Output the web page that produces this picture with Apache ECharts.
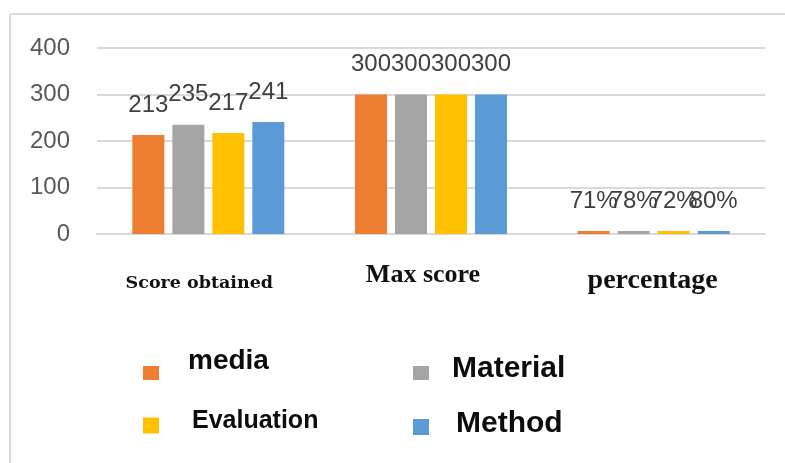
<!DOCTYPE html>
<html>
<head>
<meta charset="utf-8">
<script src="https://cdn.jsdelivr.net/npm/echarts@6/dist/echarts.min.js"></script>
<style>
  html, body { margin: 0; padding: 0; background: #fff; }
  #chart { width: 785px; height: 463px; }
</style>
</head>
<body>
<div id="chart"></div>
<script>
// Categories and series values
const categories = ['Score obtained', 'Max score', 'percentage'];
const seriesNames = ['media', 'Material', 'Evaluation', 'Method'];
const media = [213, 300, 0.71];
const material = [235, 300, 0.78];
const evaluation = [217, 300, 0.72];
const method = [241, 300, 0.80];
const yTicks = [0, 100, 200, 300, 400];

const seriesValues = [media, material, evaluation, method];
const colors = ['#ED7D31', '#A5A5A5', '#FFC000', '#5B9BD5'];

// Style key for each category label (each has its own font size)
const catStyleKey = { 'Score obtained': 'a', 'Max score': 'b', 'percentage': 'c' };

const chart = echarts.init(document.getElementById('chart'), null, { renderer: 'canvas' });

function valueLabel(p) {
  if (p.name === 'percentage') return Math.round(p.value * 100) + '%';
  return String(p.value);
}

const series = seriesNames.map((name, i) => ({
  name: name,
  type: 'bar',
  data: seriesValues[i],
  barWidth: 32,
  barGap: '25%',
  barMinHeight: 3,
  itemStyle: { color: colors[i] },
  label: {
    show: true,
    position: 'top',
    distance: 18,
    formatter: valueLabel,
    color: '#404040',
    fontFamily: 'Liberation Sans',
    fontSize: 24
  }
}));

// Legend entries placed individually (two columns, two rows);
// the name sits a little above its swatch
const legendSpec = [
  { name: 'media', left: 143, top: 347, size: 28, padLeft: 24, lift: 12, h: 14 },
  { name: 'Material', left: 413, top: 354, size: 30, padLeft: 18, lift: 4, h: 14 },
  { name: 'Evaluation', left: 143, top: 409, size: 25, padLeft: 28, lift: 4, h: 16 },
  { name: 'Method', left: 413, top: 409, size: 30, padLeft: 22, lift: 3, h: 16 }
];

const legends = legendSpec.map(s => ({
  data: [s.name],
  left: s.left,
  top: s.top,
  padding: 0,
  icon: 'rect',
  itemWidth: 16,
  itemHeight: s.h,
  selectedMode: false,
  formatter: '{t|{name}}',
  textStyle: {
    rich: {
      t: {
        fontFamily: 'Liberation Sans',
        fontWeight: 'bold',
        fontSize: s.size,
        color: '#0d0d0d',
        padding: [0, 0, s.lift * 2, s.padLeft]
      }
    }
  }
}));

chart.setOption({
  animation: false,
  backgroundColor: '#ffffff',
  grid: { left: 97, right: 20, top: 48, bottom: 229, containLabel: false },
  legend: legends,
  xAxis: {
    type: 'category',
    data: categories,
    axisTick: { show: false },
    axisLine: { lineStyle: { color: '#d9d9d9', width: 2 } },
    axisLabel: {
      margin: 20,
      interval: 0,
      formatter: v => '{' + catStyleKey[v] + '|' + v + '}',
      rich: {
        a: { fontFamily: 'DejaVu Serif', fontWeight: 'bold', fontSize: 17.5, color: '#111', padding: [20, 18, 0, 0] },
        b: { fontFamily: 'Liberation Serif', fontWeight: 'bold', fontSize: 26, color: '#111', padding: [8, 16, 0, 0] },
        c: { fontFamily: 'Liberation Serif', fontWeight: 'bold', fontSize: 28, color: '#111', padding: [13, 2, 0, 0] }
      }
    }
  },
  yAxis: {
    type: 'value',
    min: yTicks[0],
    max: yTicks[yTicks.length - 1],
    interval: 100,
    axisLine: { show: false },
    axisTick: { show: false },
    splitLine: { lineStyle: { color: '#d9d9d9', width: 2 } },
    axisLabel: {
      margin: 27,
      color: '#595959',
      fontFamily: 'Liberation Sans',
      fontSize: 24
    }
  },
  graphic: [
    { type: 'line', shape: { x1: 10, y1: 14, x2: 785, y2: 14 }, style: { stroke: '#d9d9d9', lineWidth: 2 }, silent: true },
    { type: 'line', shape: { x1: 10, y1: 14, x2: 10, y2: 463 }, style: { stroke: '#d9d9d9', lineWidth: 2 }, silent: true }
  ],
  series: series
});
</script>
</body>
</html>
